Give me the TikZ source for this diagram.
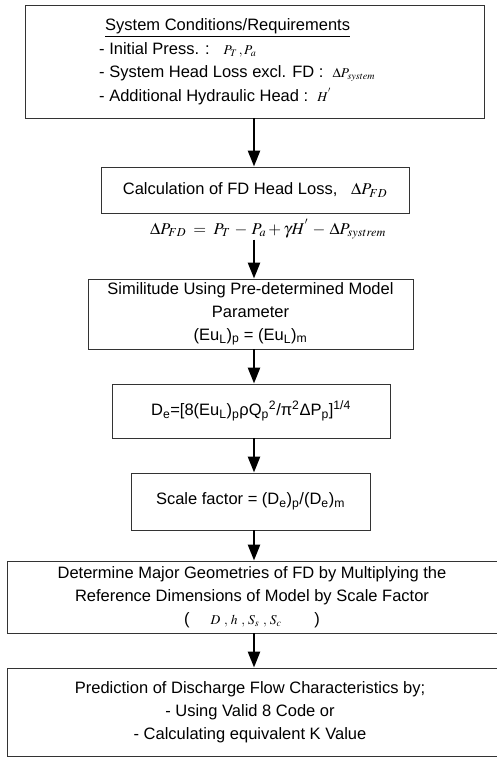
\documentclass[tikz,border=0pt]{standalone}
\usepackage{mathptmx}
\usepackage[no-math]{fontspec}
\setmainfont{Liberation Sans}
\usetikzlibrary{arrows.meta}

\newcommand{\sub}[1]{\textsubscript{#1}}
\newcommand{\mth}[1]{{\fontsize{13.5}{14}\selectfont$#1$}}

\begin{document}
\begin{tikzpicture}[x=1pt,y=1pt,
    box/.style={draw=black!80,line width=0.9pt,inner sep=0pt},
    txt/.style={align=center,inner sep=0pt,font=\fontsize{16.5}{23}\selectfont},
    flow/.style={line width=2.4pt,-{Triangle[width=12pt,length=16pt]}}]
      \useasboundingbox (0,0) rectangle (496,759);
      \def\ax{254}
      \coordinate (axis) at (\ax,0);

      % Boites
      \node[box,minimum width=459,minimum height=113] (sysreq) at (254.5,697.5) {};
      \node[box,minimum width=308,minimum height=46] (fdloss) at (255,569) {};
      \node[box,minimum width=325,minimum height=70] (simil) at (250.5,445) {};
      \node[box,minimum width=278,minimum height=54] (deq) at (251,348) {};
      \node[box,minimum width=239,minimum height=57] (scale) at (250.5,257.5) {};
      \node[box,minimum width=498,minimum height=72] (geom) at (256,162) {};
      \node[box,minimum width=498,minimum height=88] (predict) at (256,47) {};

      % Textes
      \node[txt,align=left,anchor=west,font=\fontsize{16.5}{23.5}\selectfont] (sysreqtxt) at (99,697.5)
        {\hspace*{6pt}\underline{System Conditions/Requirements}\\
         - Initial Press. :\ \ \ \mth{P_T\,, P_a}\\
         - System Head Loss excl. FD :\ \ \mth{\Delta P_{system}}\\
         - Additional Hydraulic Head :\ \ \mth{H^{'}}};
      \node[txt] (fdlosstxt) at (fdloss) {Calculation of FD Head Loss,\ \ \ $\Delta P_{FD}$};
      \node[txt] (eqn) at (268,530)
        {$\Delta P_{FD}\;=\;P_T\,-\,P_a+\gamma H^{'}\,-\,\Delta P_{systrem}$};
      \node[txt] (similtxt) at (simil)
        {Similitude Using Pre-determined Model\\ Parameter\\
         (Eu\sub{L})\sub{p} = (Eu\sub{L})\sub{m}};
      \node[txt] (deqtxt) at (deq)
        {D\sub{e}=[8(Eu\sub{L})\sub{p}ρQ\sub{p}\textsuperscript{2}/π\textsuperscript{2}ΔP\sub{p}]\textsuperscript{1/4}};
      \node[txt] (scaletxt) at (scale) {Scale factor = (D\sub{e})\sub{p}/(D\sub{e})\sub{m}};
      \node[txt] (geomtxt) at (252,162)
        {Determine Major Geometries of FD by Multiplying the\\
         Reference Dimensions of Model by Scale Factor\\
         (\quad\ \mth{D\ ,\,h\ ,\,S_s\ ,\,S_c}\quad\quad)};
      \node[txt] (predicttxt) at (250,47)
        {Prediction of Discharge Flow Characteristics by;\\
         - Using Valid 8 Code or\\
         - Calculating equivalent K Value};

      % Fleches
      \draw[flow] (sysreq.south -| axis) -- (fdloss.north -| axis);
      \draw[flow] (eqn.south -| axis) -- (simil.north -| axis);
      \draw[flow] (simil.south -| axis) -- (deq.north -| axis);
      \draw[flow] (deq.south -| axis) -- (scale.north -| axis);
      \draw[flow] (scale.south -| axis) -- (geom.north -| axis);
      \draw[flow] (geom.south -| axis) -- (predict.north -| axis);
    \end{tikzpicture}
\end{document}
